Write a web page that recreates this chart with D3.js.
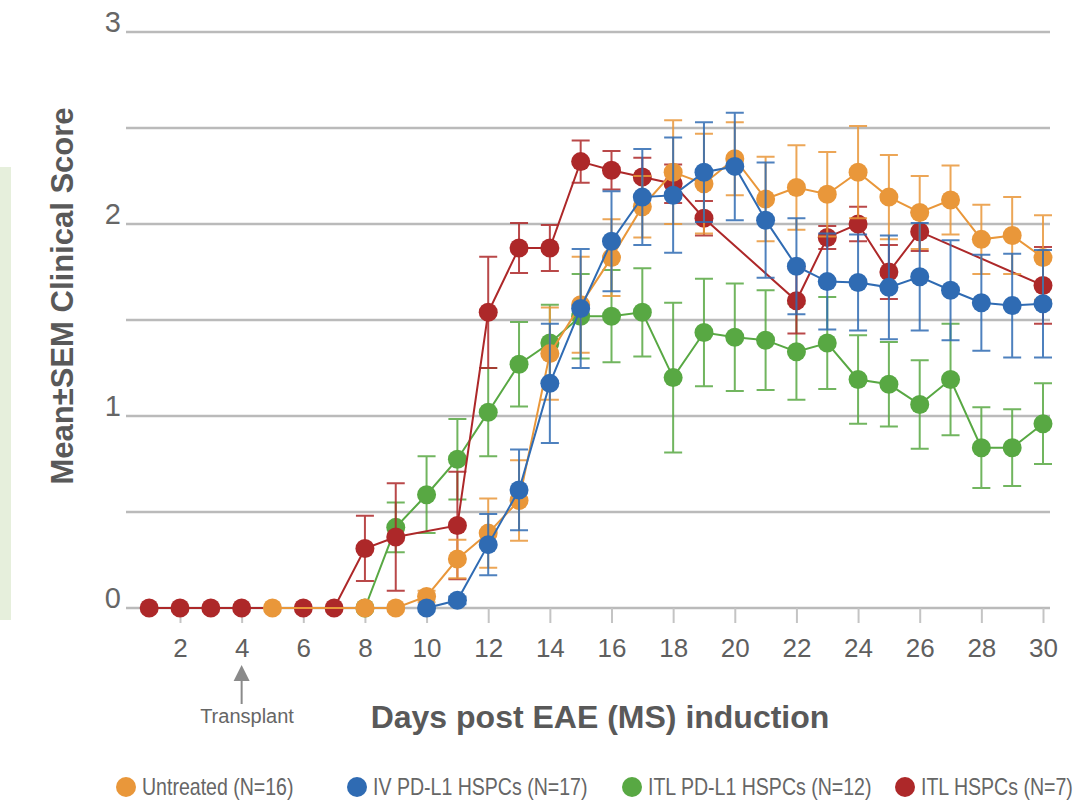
<!DOCTYPE html>
<html>
<head>
<meta charset="utf-8">
<script src="https://cdn.jsdelivr.net/npm/d3@7"></script>
<style>
    body { margin: 0; background: #fff; }
    svg { display: block; }
</style>
</head>
<body>
<script>
"use strict";
var svg_width = 1084;
var svg_height = 805;

// days post induction (x categories)
var days = [1, 2, 3, 4, 5, 6, 7, 8, 9, 10, 11, 12, 13, 14, 15, 16, 17, 18, 19, 20, 21, 22, 23, 24, 25, 26, 27, 28, 29, 30];
var x_ticks = [2, 4, 6, 8, 10, 12, 14, 16, 18, 20, 22, 24, 26, 28, 30];
var y_labels = [0, 1, 2, 3];
var y_grid = [0, 0.5, 1, 1.5, 2, 2.5, 3];

// mean clinical score per day, null = no point
var untreated = [null, null, null, null, 0, null, null, 0, 0, 0.06, 0.255, 0.39, 0.56, 1.325, 1.58, 1.825, 2.09, 2.27, 2.21, 2.34, 2.13, 2.19, 2.155, 2.27, 2.14, 2.06, 2.125, 1.92, 1.94, 1.825];
var untreated_sem = [0, 0, 0, 0, 0, 0, 0, 0, 0, 0.03, 0.1, 0.18, 0.21, 0.24, 0.25, 0.2, 0.16, 0.27, 0.26, 0.19, 0.22, 0.22, 0.22, 0.24, 0.22, 0.19, 0.18, 0.18, 0.2, 0.22];

var iv_pdl1 = [null, null, null, null, null, null, null, null, null, 0, 0.04, 0.33, 0.615, 1.17, 1.56, 1.91, 2.14, 2.15, 2.27, 2.3, 2.02, 1.78, 1.7, 1.695, 1.67, 1.725, 1.655, 1.59, 1.575, 1.585];
var iv_pdl1_sem = [0, 0, 0, 0, 0, 0, 0, 0, 0, 0, 0.02, 0.16, 0.21, 0.31, 0.31, 0.26, 0.25, 0.3, 0.26, 0.28, 0.3, 0.25, 0.25, 0.25, 0.27, 0.28, 0.26, 0.25, 0.27, 0.28];

var itl_pdl1 = [null, null, null, null, null, null, null, 0, 0.42, 0.59, 0.775, 1.02, 1.27, 1.38, 1.52, 1.52, 1.54, 1.2, 1.435, 1.41, 1.395, 1.335, 1.38, 1.19, 1.165, 1.06, 1.19, 0.835, 0.835, 0.96];
var itl_pdl1_sem = [0, 0, 0, 0, 0, 0, 0, 0, 0.13, 0.2, 0.21, 0.23, 0.22, 0.2, 0.22, 0.24, 0.23, 0.39, 0.28, 0.28, 0.26, 0.25, 0.24, 0.23, 0.22, 0.23, 0.29, 0.21, 0.2, 0.21];

var itl_hspc = [0, 0, 0, 0, null, 0, 0, 0.31, 0.37, null, 0.43, 1.54, 1.875, 1.875, 2.325, 2.28, 2.245, 2.21, 2.03, null, null, 1.6, 1.93, 2.0, 1.75, 1.96, null, null, null, 1.68];
var itl_hspc_sem = [0, 0, 0, 0, 0, 0, 0, 0.17, 0.28, 0, 0.28, 0.29, 0.13, 0.12, 0.11, 0.1, 0.1, 0.1, 0.09, 0, 0, 0.17, 0.06, 0.09, 0.14, 0.1, 0, 0, 0, 0.2];

var series_names = ["Untreated (N=16)", "IV PD-L1 HSPCs (N=17)", "ITL PD-L1 HSPCs (N=12)", "ITL HSPCs (N=7)"];
var series_colors = ["#E9973A", "#2F6BB3", "#58A843", "#AD2829"];

var xscale = d3.scaleLinear()
    .domain([2, 30])
    .range([180, 1043]);
var yscale = d3.scaleLinear()
    .domain([0, 3])
    .range([608, 32]);

var svg = d3.select("body")
    .append("svg")
    .attr("width", svg_width)
    .attr("height", svg_height);

// pale green strip on the left edge
svg.append("rect")
    .attr("x", 0)
    .attr("y", 167)
    .attr("width", 11)
    .attr("height", 453)
    .attr("fill", "#e6efdc");

renderAxes();
// draw order so that overlaps look like the original
renderSeries(itl_pdl1, itl_pdl1_sem, series_colors[2]);
renderSeries(itl_hspc, itl_hspc_sem, series_colors[3]);
renderSeries(untreated, untreated_sem, series_colors[0]);
renderSeries(iv_pdl1, iv_pdl1_sem, series_colors[1]);
renderLegend();

function renderAxes()
{
    var grid = svg.append("g").attr("class", "grid");
    grid.selectAll("line")
        .data(y_grid)
        .enter()
        .append("line")
        .attr("x1", 126)
        .attr("x2", 1050)
        .attr("y1", function(d) { return yscale(d); })
        .attr("y2", function(d) { return yscale(d); })
        .style("stroke", "#bababa")
        .style("stroke-width", 2.4);

    var xaxis = d3.axisBottom(xscale)
        .tickValues(x_ticks)
        .tickSize(15)
        .tickPadding(16)
        .tickFormat(d3.format("d"));
    var gx = svg.append("g")
        .attr("transform", "translate(0," + yscale(0) + ")")
        .call(xaxis);
    gx.select(".domain").remove();
    gx.selectAll(".tick line")
        .style("stroke", "#c4c4c4")
        .style("stroke-width", 2);
    gx.selectAll(".tick text")
        .style("font-family", "'Liberation Sans', Arial, sans-serif")
        .style("font-size", "26px")
        .style("fill", "#5f5f5f");

    svg.append("g")
        .selectAll("text")
        .data(y_labels)
        .enter()
        .append("text")
        .attr("x", 121)
        .attr("y", function(d) { return yscale(d); })
        .attr("text-anchor", "end")
        .style("font-family", "'Liberation Sans', Arial, sans-serif")
        .style("font-size", "29px")
        .style("fill", "#666")
        .text(function(d) { return d; });

    svg.append("text")
        .attr("transform", "translate(73,296) rotate(-90)")
        .attr("text-anchor", "middle")
        .style("font-family", "'Liberation Sans', Arial, sans-serif")
        .style("font-weight", "bold")
        .style("font-size", "31px")
        .style("fill", "#595959")
        .text("Mean\u00b1SEM Clinical Score");

    svg.append("text")
        .attr("x", 600)
        .attr("y", 728)
        .attr("text-anchor", "middle")
        .style("font-family", "'Liberation Sans', Arial, sans-serif")
        .style("font-weight", "bold")
        .style("font-size", "32px")
        .style("fill", "#595959")
        .text("Days post EAE (MS) induction");

    // transplant marker at day 4
    var ax = xscale(4);
    svg.append("line")
        .attr("x1", ax).attr("x2", ax)
        .attr("y1", 704).attr("y2", 676)
        .style("stroke", "#8a8a8a")
        .style("stroke-width", 2);
    svg.append("path")
        .attr("d", "M" + ax + ",665L" + (ax - 8) + ",681L" + (ax + 8) + ",681Z")
        .attr("fill", "#8a8a8a");
    svg.append("text")
        .attr("x", 247)
        .attr("y", 723)
        .attr("text-anchor", "middle")
        .style("font-family", "'Liberation Sans', Arial, sans-serif")
        .style("font-size", "20px")
        .style("fill", "#666")
        .text("Transplant");
}

function renderSeries(values, sem, color)
{
    var points = [];
    for(var i = 0; i < days.length; i++)
    {
        if(values[i] !== null)
        {
            points.push({ day: days[i], v: values[i], e: sem[i] });
        }
    }
    var g = svg.append("g");
    var line = d3.line()
        .x(function(d) { return xscale(d.day); })
        .y(function(d) { return yscale(d.v); });
    g.append("path")
        .datum(points)
        .attr("d", line)
        .attr("fill", "none")
        .style("stroke", color)
        .style("stroke-width", 2);

    var bars = points.filter(function(p) { return p.e > 0; });
    var cap = 9;
    g.selectAll(".err")
        .data(bars)
        .enter()
        .append("path")
        .attr("class", "err")
        .attr("d", function(d)
        {
            var cx = xscale(d.day);
            var top = yscale(d.v + d.e);
            var bot = yscale(d.v - d.e);
            return "M" + cx + "," + top + "V" + bot
                + "M" + (cx - cap) + "," + top + "H" + (cx + cap)
                + "M" + (cx - cap) + "," + bot + "H" + (cx + cap);
        })
        .attr("fill", "none")
        .style("stroke", color)
        .style("stroke-opacity", 0.85)
        .style("stroke-width", 2);

    g.selectAll("circle")
        .data(points)
        .enter()
        .append("circle")
        .attr("cx", function(d) { return xscale(d.day); })
        .attr("cy", function(d) { return yscale(d.v); })
        .attr("r", 9.5)
        .style("fill", color);
}

function renderLegend()
{
    var legend_x = [126, 357, 632, 905];
    var lg = svg.append("g").attr("class", "legend");
    var item = lg.selectAll("g")
        .data(series_names)
        .enter()
        .append("g")
        .attr("transform", function(d, i) { return "translate(" + legend_x[i] + ",787)"; });
    item.append("circle")
        .attr("r", 10)
        .style("fill", function(d, i) { return series_colors[i]; });
    // the original font is narrow, so squeeze the text horizontally
    item.append("text")
        .attr("transform", "translate(16,8) scale(0.85,1)")
        .style("font-family", "'Liberation Sans', Arial, sans-serif")
        .style("font-size", "23px")
        .style("fill", "#666")
        .text(function(d) { return d; });
}
</script>
</body>
</html>
